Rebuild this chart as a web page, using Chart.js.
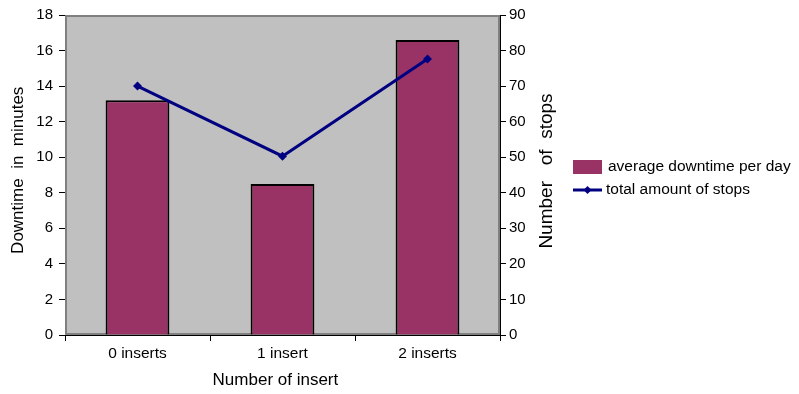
<!DOCTYPE html>
<html>
<head>
<meta charset="utf-8">
<script src="https://cdn.jsdelivr.net/npm/chart.js@4/dist/chart.umd.min.js"></script>
<style>
  html, body { margin: 0; padding: 0; background: #fff; }
  #wrap { width: 799px; height: 394px; position: relative; }
</style>
</head>
<body>
<div id="wrap"><canvas id="c" width="799" height="394"></canvas></div>
<script>
const categories = ['0 inserts', '1 insert', '2 inserts'];
const downtimeMinutes = [13.2, 8.5, 16.6];
const totalStops = [70, 50.3, 77.6];
const downtimeTicks = [0, 2, 4, 6, 8, 10, 12, 14, 16, 18];
const stopsTicks = [0, 10, 20, 30, 40, 50, 60, 70, 80, 90];

const FONT = 'Liberation Sans, Arial, sans-serif';
const BAR_COLOR = '#993366';
const LINE_COLOR = '#000080';

// grey plot background with a darker frame
const plotBackground = {
  id: 'plotBackground',
  beforeDatasetsDraw(chart) {
    const { ctx, chartArea: a } = chart;
    ctx.save();
    ctx.fillStyle = '#c0c0c0';
    ctx.fillRect(a.left, a.top, a.right - a.left, a.bottom - a.top);
    ctx.strokeStyle = '#808080';
    ctx.lineWidth = 2;
    ctx.strokeRect(a.left + 1, a.top + 1, a.right - a.left - 2, a.bottom - a.top - 2);
    ctx.restore();
  }
};

// titles placed by hand: right axis title reads bottom-to-top, plus the side legend
const extras = {
  id: 'extras',
  afterDraw(chart) {
    const { ctx, chartArea: a } = chart;
    ctx.save();
    ctx.fillStyle = '#000';
    ctx.font = '19px ' + FONT;
    ctx.textAlign = 'center';
    ctx.textBaseline = 'middle';
    ctx.translate(547, (a.top + a.bottom) / 2 - 4);
    ctx.rotate(-Math.PI / 2);
    ctx.fillText('Number   of  stops', 0, 0);
    ctx.restore();

    const bars = chart.data.datasets.find(d => d.type === 'bar');
    const line = chart.data.datasets.find(d => d.type === 'line');
    ctx.save();
    ctx.font = '15.5px ' + FONT;
    ctx.textBaseline = 'middle';
    ctx.textAlign = 'left';
    // bar item
    ctx.fillStyle = bars.backgroundColor;
    ctx.fillRect(573, 160, 29, 14);
    ctx.fillStyle = '#000';
    ctx.fillText(bars.label, 608, 167);
    // line item
    ctx.strokeStyle = line.borderColor;
    ctx.lineWidth = 3;
    ctx.beginPath();
    ctx.moveTo(573, 190);
    ctx.lineTo(602, 190);
    ctx.stroke();
    ctx.fillStyle = line.borderColor;
    ctx.beginPath();
    ctx.moveTo(587.5, 186);
    ctx.lineTo(591.5, 190);
    ctx.lineTo(587.5, 194);
    ctx.lineTo(583.5, 190);
    ctx.closePath();
    ctx.fill();
    ctx.fillStyle = '#000';
    ctx.fillText(line.label, 606, 190);
    ctx.restore();
  }
};

new Chart(document.getElementById('c'), {
  type: 'bar',
  data: {
    labels: categories,
    datasets: [
      {
        type: 'line',
        label: 'total amount of stops',
        data: totalStops,
        yAxisID: 'yStops',
        borderColor: LINE_COLOR,
        backgroundColor: LINE_COLOR,
        borderWidth: 3,
        pointStyle: 'rectRot',
        pointRadius: 4.5,
        pointBorderWidth: 0,
        tension: 0,
        order: 0
      },
      {
        type: 'bar',
        label: 'average downtime per day',
        data: downtimeMinutes,
        yAxisID: 'yDown',
        backgroundColor: BAR_COLOR,
        borderColor: '#000',
        borderWidth: 2,
        barPercentage: 0.44,
        categoryPercentage: 1,
        order: 1
      }
    ]
  },
  options: {
    responsive: false,
    animation: false,
    layout: { padding: { top: 15, right: 239, bottom: 0, left: 0 } },
    plugins: { legend: { display: false }, tooltip: { enabled: false } },
    scales: {
      x: {
        offset: true,
        grid: { offset: true, drawOnChartArea: false, drawTicks: true, tickLength: 6, color: '#000', tickWidth: 1 },
        border: { color: '#000', width: 1 },
        ticks: { color: '#000', font: { family: FONT, size: 15.5 }, padding: 3, maxRotation: 0 },
        title: { display: true, text: 'Number of insert   ', color: '#000', font: { family: FONT, size: 17 }, padding: { top: 0, bottom: 3 } },
        afterFit(s) { s.height = 59; }
      },
      yDown: {
        position: 'left',
        min: 0, max: 18,
        afterBuildTicks(s) { s.ticks = downtimeTicks.map(v => ({ value: v })); },
        grid: { drawOnChartArea: false, drawTicks: true, tickLength: 6, color: '#000' },
        border: { color: '#000', width: 1 },
        ticks: { color: '#000', font: { family: FONT, size: 15 }, padding: 6 },
        title: { display: true, text: '  Downtime  in  minutes', color: '#000', font: { family: FONT, size: 17 }, padding: { top: 8, bottom: 0 } },
        afterFit(s) { s.width = 65; }
      },
      yStops: {
        position: 'right',
        min: 0, max: 90,
        afterBuildTicks(s) { s.ticks = stopsTicks.map(v => ({ value: v })); },
        grid: { drawOnChartArea: false, drawTicks: true, tickLength: 6, color: '#000' },
        border: { color: '#000', width: 1 },
        ticks: { color: '#000', font: { family: FONT, size: 15 }, padding: 3 },
        afterFit(s) { s.width = 60; }
      }
    }
  },
  plugins: [plotBackground, extras]
});
</script>
</body>
</html>
